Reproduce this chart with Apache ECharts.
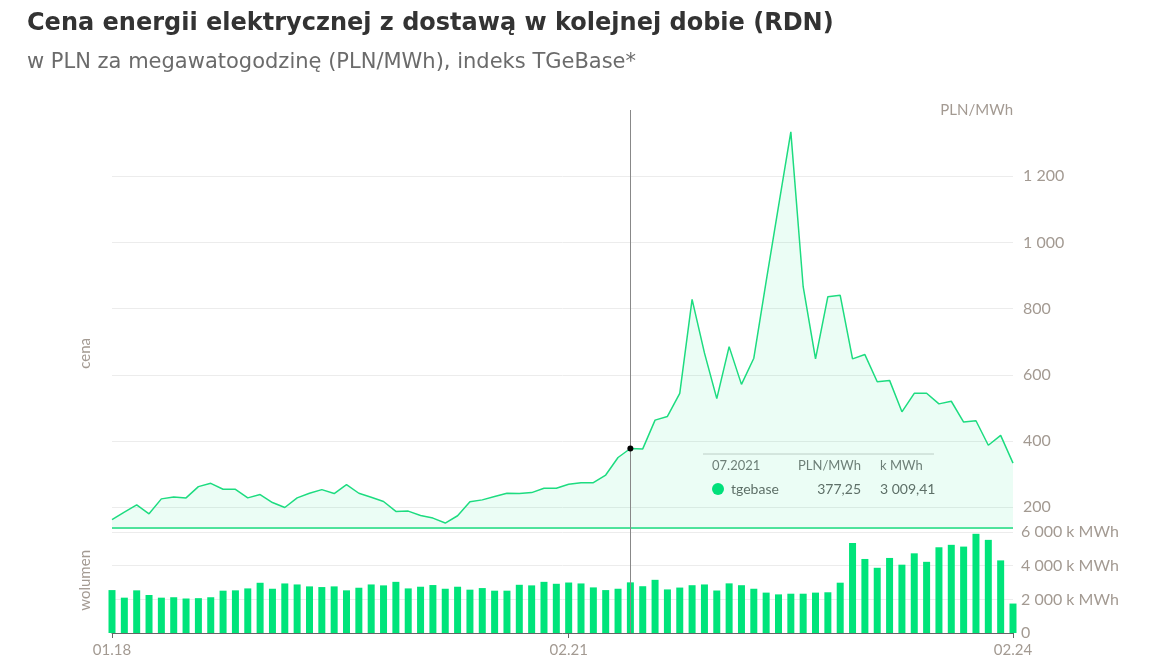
<!DOCTYPE html>
<html><head><meta charset="utf-8">
<script src="https://cdn.jsdelivr.net/npm/echarts@6/dist/echarts.min.js"></script>
<style>html,body{margin:0;padding:0;background:#fff}#c{width:1151px;height:672px}</style>
</head><body><div id="c"></div>
<script>
const months = [];
for (let y = 18; y <= 24; y++) for (let m = 1; m <= 12; m++) { if (y === 24 && m > 2) break; months.push(String(m).padStart(2,'0') + '.' + y); }
const price = [162,185,207,180,225,231,228,262,272,254,254,228,238,214,199,228,242,253,241,268,242,230,217,187,188,175,167,152,174,216,222,232,242,241,244,257,257,269,274,274,297,350,377.25,376,463,474,544,828,666,528,685,571,650,882,1109,1334,866,648,836,840,648,661,579,583,488,544,544,512,520,457,461,387,417,333];
const volume = [2550,2100,2535,2260,2100,2125,2050,2070,2125,2515,2535,2650,2985,2630,2945,2885,2770,2730,2770,2535,2690,2885,2830,3040,2650,2750,2850,2630,2750,2575,2670,2515,2515,2865,2830,3040,2925,3000,2945,2710,2550,2630,3009.41,2780,3160,2590,2700,2840,2885,2525,2950,2840,2630,2400,2295,2335,2335,2400,2420,2990,5350,4400,3875,4460,4060,4735,4230,5095,5240,5135,5895,5535,4315,1750];
const priceTicks = [200,400,600,800,1000,1200];
const volTicks = [0,2000,4000,6000];
const xLabels = ['01.18','02.21','02.24'];
const hi = 42;

const fmt = v => String(Math.round(v)).replace(/\B(?=(\d{3})+(?!\d))/g,' ');
const lblColor = '#a39a92';
const FONT = 'Lato';
const TFONT = 'DejaVu Sans';
const chart = echarts.init(document.getElementById('c'));
const xCommon = {
  type:'category', data: months, boundaryGap:false,
  axisTick:{show:false}, splitLine:{show:false}
};
chart.setOption({
  animation:false,
  textStyle:{fontFamily:FONT},
  title:[
    {text:'Cena energii elektrycznej z dostawą w kolejnej dobie (RDN)', left:22, top:7,
     textStyle:{fontSize:24, fontWeight:'bold', color:'#333', fontFamily:TFONT}},
    {text:'w PLN za megawatogodzinę (PLN/MWh), indeks TGeBase*', left:22, top:47,
     textStyle:{fontSize:21, fontWeight:'normal', color:'#6b6b6b', fontFamily:TFONT}}
  ],
  grid:[
    {left:112, right:138, top:110, height:418},
    {left:112, right:138, top:528, height:105}
  ],
  xAxis:[
    Object.assign({}, xCommon, {gridIndex:0, axisLabel:{show:false}, axisLine:{show:false}}),
    Object.assign({}, xCommon, {gridIndex:1,
      axisLine:{lineStyle:{color:'#666'}},
      axisTick:{show:true, alignWithLabel:true, length:5, lineStyle:{color:'#666'},
        interval:(i,v)=>xLabels.includes(v)},
      axisLabel:{color:lblColor, fontSize:15, margin:10, interval:(i,v)=>xLabels.includes(v), formatter:v=>v}})
  ],
  yAxis:[
    {type:'value', gridIndex:0, position:'right', min:137, max:1400,
     name:'PLN/MWh', nameLocation:'end', nameGap:-8, nameTextStyle:{color:lblColor, fontSize:15, align:'right', verticalAlign:'bottom'},
     axisLine:{show:false}, axisTick:{show:false}, splitLine:{show:false},
     axisLabel:{customValues:priceTicks, color:lblColor, fontSize:16, margin:10, formatter:fmt}},
    {type:'value', gridIndex:1, position:'right', min:0, max:6240, interval:2000,
     axisLine:{show:false}, axisTick:{show:false},
     splitLine:{show:true, lineStyle:{color:'#ececec'}},
     axisLabel:{color:lblColor, fontSize:16, margin:8, showMaxLabel:false,
       formatter:v=> v===0 ? '0' : fmt(v)+' k MWh'}}
  ],
  graphic:[
    {type:'text', left:78, top:338, rotation:Math.PI/2, style:{text:'cena', fill:lblColor, fontSize:15, fontFamily:FONT}},
    {type:'text', left:78, top:550, rotation:Math.PI/2, style:{text:'wolumen', fill:lblColor, fontSize:15, fontFamily:FONT}},
    {type:'rect', shape:{x:700, y:453, width:237, height:67, r:8}, style:{fill:'rgba(255,255,255,0.85)'}},
    {type:'line', shape:{x1:703, y1:454, x2:934, y2:454}, style:{stroke:'#ccc', lineWidth:1}},
    {type:'text', x:712, y:459, style:{text:'07.2021', fill:'#777', fontSize:13, fontFamily:FONT}},
    {type:'text', x:861, y:459, style:{text:'PLN/MWh', fill:'#777', fontSize:13, fontFamily:FONT, align:'right'}},
    {type:'text', x:880, y:459, style:{text:'k MWh', fill:'#777', fontSize:13, fontFamily:FONT}},
    {type:'circle', shape:{cx:718, cy:489, r:6}, style:{fill:'#00e07a'}},
    {type:'text', x:731, y:482, style:{text:'tgebase', fill:'#666', fontSize:14, fontFamily:FONT}},
    {type:'text', x:861, y:482, style:{text:'377,25', fill:'#666', fontSize:14, fontFamily:FONT, align:'right'}},
    {type:'text', x:880, y:482, style:{text:'3 009,41', fill:'#666', fontSize:14, fontFamily:FONT}}
  ],
  series:[
    {type:'line', xAxisIndex:0, yAxisIndex:0, data:price, symbol:'none',
     lineStyle:{color:'#1ddc80', width:1.5}, areaStyle:{color:'rgba(0,224,122,0.11)', origin:'start'},
     z:3,
     markLine:{silent:true, symbol:'none', label:{show:false}, z:1,
       lineStyle:{color:'#ececec', type:'solid', width:1},
       data: priceTicks.map(v=>({yAxis:v})).concat([{yAxis:137, lineStyle:{color:'#1ddc80', width:1.5}}])},
     markPoint:{symbol:'circle', symbolSize:6, itemStyle:{color:'#000'}, label:{show:false},
       data:[{coord:[hi, price[hi]]}]}
    },
    {type:'line', xAxisIndex:0, yAxisIndex:0, data:[], 
     markLine:{silent:true, symbol:'none', label:{show:false},
       lineStyle:{color:'#888', type:'solid', width:1}, data:[[{coord:[hi,137]},{coord:[hi,1400]}]]}},
    {type:'bar', xAxisIndex:1, yAxisIndex:1, data:volume, barWidth:7,
     itemStyle:{color:'#00e47a'},
     markLine:{silent:true, symbol:'none', label:{show:false},
       lineStyle:{color:'#888', type:'solid', width:1}, data:[{xAxis:hi}]}}
  ]
});
</script></body></html>
